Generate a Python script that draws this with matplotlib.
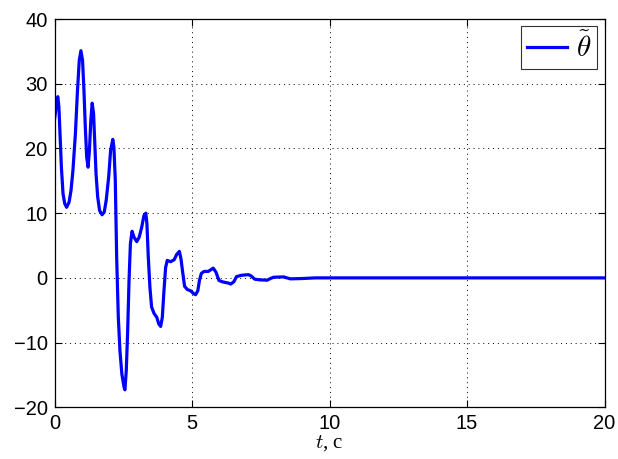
import matplotlib
matplotlib.use("Agg")
import matplotlib.pyplot as plt

# Error signal samples (time in seconds, angle error)
t = [0.00, 0.03, 0.08, 0.12, 0.16, 0.20, 0.25, 0.31, 0.37, 0.44, 0.53, 0.60, 0.67,
     0.76, 0.83, 0.90, 0.96, 1.02, 1.07, 1.12, 1.17, 1.22, 1.27, 1.32, 1.37, 1.42,
     1.46, 1.51, 1.57, 1.64, 1.73, 1.81, 1.88, 1.97, 2.04, 2.12, 2.16, 2.21, 2.26,
     2.32, 2.38, 2.45, 2.53, 2.56, 2.61, 2.66, 2.71, 2.76, 2.82, 2.89, 2.99, 3.08,
     3.17, 3.25, 3.32, 3.36, 3.41, 3.47, 3.53, 3.62, 3.72, 3.79, 3.86, 3.92, 3.98,
     4.04, 4.10, 4.22, 4.35, 4.44, 4.54, 4.60, 4.66, 4.73, 4.83, 4.95, 5.05, 5.13,
     5.21, 5.27, 5.34, 5.44, 5.59, 5.77, 5.87, 5.98, 6.10, 6.20, 6.32, 6.41, 6.52,
     6.62, 6.80, 7.05, 7.15, 7.28, 7.45, 7.73, 7.85, 7.97, 8.34, 8.45, 8.58, 9.00,
     9.50, 10.0, 12.0, 15.0, 20.0]
theta = [24.5, 25.4, 27.4, 28.0, 26.4, 22.3, 17.1, 13.0, 11.5, 10.9, 11.7, 13.5, 16.6,
         22.3, 28.5, 33.6, 35.1, 33.6, 29.0, 23.3, 18.7, 17.1, 19.7, 24.3, 27.0, 25.4,
         21.3, 16.1, 12.5, 10.4, 9.75, 10.2, 12.0, 15.6, 19.7, 21.4, 20.2, 15.1, 3.2,
         -6.1, -11.3, -14.9, -16.9, -17.3, -14.3, -8.2, -0.4, 5.3, 7.2, 6.3, 5.6, 6.3,
         7.8, 9.6, 10.0, 8.4, 3.2, -1.5, -4.5, -5.5, -6.1, -7.1, -7.5, -6.1, -2.0,
         1.6, 2.7, 2.5, 2.8, 3.6, 4.1, 2.9, 0.9, -1.3, -1.8, -2.0, -2.4, -2.6,
         -2.0, -0.4, 0.7, 1.0, 1.0, 1.5, 0.9, -0.4, -0.6, -0.7, -0.8, -0.95, -0.6,
         0.2, 0.4, 0.5, 0.3, -0.2, -0.3, -0.36, -0.1, 0.1, 0.15, 0.0, -0.15, -0.1,
         0.0, 0.0, 0.0, 0.0, 0.0]

xticks = [0, 5, 10, 15, 20]
yticks = [-20, -10, 0, 10, 20, 30, 40]

plt.rcParams["font.family"] = ["Liberation Sans", "DejaVu Sans"]
plt.rcParams["mathtext.fontset"] = "cm"

fig = plt.figure(figsize=(6.18, 4.59), dpi=100)
ax = fig.add_axes([0.0882, 0.1126, 0.8900, 0.8460])

ax.plot(t, theta, color=(0, 0, 1), lw=2.3, label=r"$\tilde{\theta}$",
        solid_joinstyle="round")

ax.set_xlim(0, 20)
ax.set_ylim(-20, 40)
ax.set_xticks(xticks)
ax.set_yticks(yticks)
ax.tick_params(direction="in", length=5, width=0.8, top=True, right=True,
               labelsize=14.5, pad=5)
ax.grid(True, color="black", linestyle=(0, (1, 4)), linewidth=0.7)
for s in ax.spines.values():
    s.set_linewidth(0.9)

ax.set_xlabel(r"$t$, с", family=["Liberation Serif", "DejaVu Serif"],
              fontsize=15, labelpad=0)

leg = ax.legend(loc="upper right", fontsize=21, frameon=True, fancybox=False,
                handlelength=1.4, borderpad=0.2, handletextpad=0.3,
                borderaxespad=0.25)
leg.get_frame().set_edgecolor("black")
leg.get_frame().set_linewidth(0.8)

fig.savefig("out.png", dpi=100)
